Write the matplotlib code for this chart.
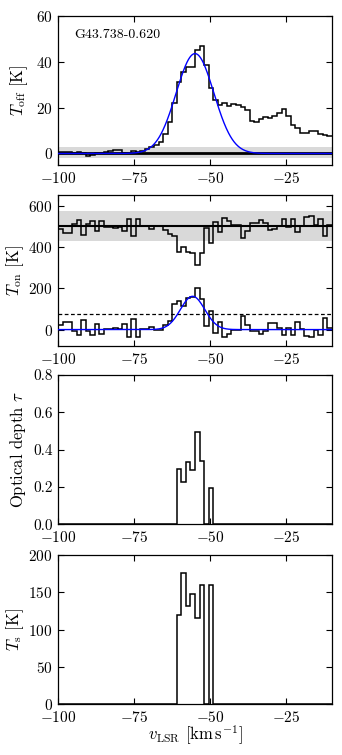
import numpy as np
import matplotlib
matplotlib.use("Agg")
import matplotlib.pyplot as plt

plt.rcParams['font.family'] = 'serif'
plt.rcParams['font.serif'] = ['cmr10', 'DejaVu Serif']
plt.rcParams['mathtext.fontset'] = 'cm'
plt.rcParams['axes.formatter.use_mathtext'] = True
plt.rcParams['font.size'] = 11

# ---------------- data ----------------
chan_width = 1.5
v_start = -100.0
n_chan = 60
edges = v_start + chan_width * np.arange(n_chan + 1)

source_name = "G43.738-0.620"

t_off = [0.5, 0.6, 0.5, 0.3, 0.5, 0.2, -1.3, -0.6, 0.1, 0.2,
         0.6, 0.9, 1.6, 1.4, 0.3, 0.4, 0.9, 0.8, 1.3, 1.9,
         2.8, 3.6, 5.2, 8.4, 13.9, 21.9, 31.0, 35.6, 37.8, 37.8,
         45.0, 46.6, 38.5, 28.4, 23.3, 21.2, 22.2, 20.7, 21.5, 21.3,
         20.4, 19.0, 14.2, 13.5, 15.1, 15.8, 15.4, 16.4, 17.6, 19.3,
         16.4, 12.5, 11.0, 9.1, 9.1, 9.6, 9.9, 8.6, 8.1, 7.7]

t_on = [490, 468, 468, 512, 532, 458, 512, 530, 480, 528,
        500, 500, 495, 500, 480, 540, 455, 540, 502, 502,
        492, 505, 505, 485, 465, 455, 379, 403, 379, 375,
        314, 371, 493, 420, 525, 473, 541, 530, 509, 509,
        444, 478, 517, 520, 533, 517, 485, 490, 505, 540,
        500, 540, 473, 505, 546, 553, 509, 540, 457, 509]

t_on_diff = [20, 37, 37, -7, -27, 47, -5, -25, 25, -23,
             5, 5, 10, 5, 25, -35, 50, -35, 3, 3,
             13, 0, 0, 20, 43, 125, 138, 115, 155, 158,
             200, 151, 15, 90, -18, 35, -35, -22, -3, -3,
             67, 20, -5, -5, -20, -8, 30, 30, 10, -25,
             10, -25, 37, 5, -30, -36, 0, -25, 57, 10]

tau = [0.0] * 26 + [0.296, 0.225, 0.334, 0.291, 0.496, 0.341, 0.0, 0.193] + [0.0] * 26
t_spin = [0.0] * 26 + [120, 176, 132, 148, 115, 160, 0, 160] + [0.0] * 26

# Gaussian fit parameters (amplitude, centre, sigma)
off_fit = (43.5, -55.0, 6.2)
on_fit = (162.0, -55.8, 4.0)

off_level = 0.0
off_band = (-1.9, 2.9)
cont_level = 505.0
cont_band = (432.0, 578.0)
threshold = 75.0

xlim = (-100, -10)
xticks = [-100, -75, -50, -25]

# ---------------- plot ----------------
fig = plt.figure(figsize=(3.42, 7.55), dpi=100)
L, W, H = 0.1705, 0.7995, 0.1977
ax1 = fig.add_axes([L, 0.7815, W, H])
ax2 = fig.add_axes([L, 0.5417, W, 0.2])
ax3 = fig.add_axes([L, 0.3056, W, H])
ax4 = fig.add_axes([L, 0.0672, W, H])

vfine = np.linspace(xlim[0], xlim[1], 600)

def gauss(x, p):
    a, c, s = p
    return a * np.exp(-(x - c) ** 2 / (2 * s ** 2))

lab_fs = 12

# panel 1
ax1.axhspan(*off_band, color='#d9d9d9', lw=0, zorder=0)
ax1.axhline(off_level, color='k', lw=2.0, zorder=1)
ax1.stairs(t_off, edges, baseline=None, color='k', lw=1.1, zorder=2)
ax1.plot(vfine, gauss(vfine, off_fit), color='#0000ff', lw=1.0, zorder=3)
ax1.set_ylim(-5, 60)
ax1.set_yticks([0, 20, 40, 60])
ax1.set_ylabel(r"$T_{\rm off}$ [K]", fontsize=lab_fs, labelpad=4)
ax1.text(0.06, 0.85, source_name, transform=ax1.transAxes, fontsize=10)

# panel 2
ax2.axhspan(*cont_band, color='#d9d9d9', lw=0, zorder=0)
ax2.axhline(cont_level, color='k', lw=1.5, zorder=1)
ax2.axhline(threshold, color='k', lw=0.9, ls='--', dashes=(3, 2), zorder=1)
ax2.stairs(t_on, edges, baseline=None, color='k', lw=1.1, zorder=2)
ax2.stairs(t_on_diff, edges, baseline=None, color='k', lw=1.1, zorder=2)
ax2.plot(vfine, gauss(vfine, on_fit), color='#0000ff', lw=1.0, zorder=3)
ax2.set_ylim(-80, 655)
ax2.set_yticks([0, 200, 400, 600])
ax2.set_ylabel(r"$T_{\rm on}$ [K]", fontsize=lab_fs, labelpad=2)

# panel 3
ax3.stairs(tau, edges, baseline=0, color='k', lw=1.1)
ax3.set_ylim(0, 0.8)
ax3.set_yticks([0.0, 0.2, 0.4, 0.6, 0.8])
ax3.set_yticklabels(["0.0", "0.2", "0.4", "0.6", "0.8"])
ax3.set_ylabel(r"Optical depth $\tau$", fontsize=lab_fs, labelpad=4)

# panel 4
ax4.stairs(t_spin, edges, baseline=0, color='k', lw=1.1)
ax4.set_ylim(0, 200)
ax4.set_yticks([0, 50, 100, 150, 200])
ax4.set_ylabel(r"$T_{\rm s}$ [K]", fontsize=lab_fs, labelpad=2)
ax4.set_xlabel(r"$v_{\rm LSR}$ [km$\,$s$^{-1}$]", fontsize=lab_fs, labelpad=-1)

for ax in (ax1, ax2, ax3, ax4):
    ax.set_xlim(*xlim)
    ax.set_xticks(xticks)
    ax.tick_params(direction='in', top=True, right=True, length=4, width=0.8,
                   labelsize=11, pad=4)
    for s in ax.spines.values():
        s.set_linewidth(0.9)

fig.savefig("out.png", dpi=100)
